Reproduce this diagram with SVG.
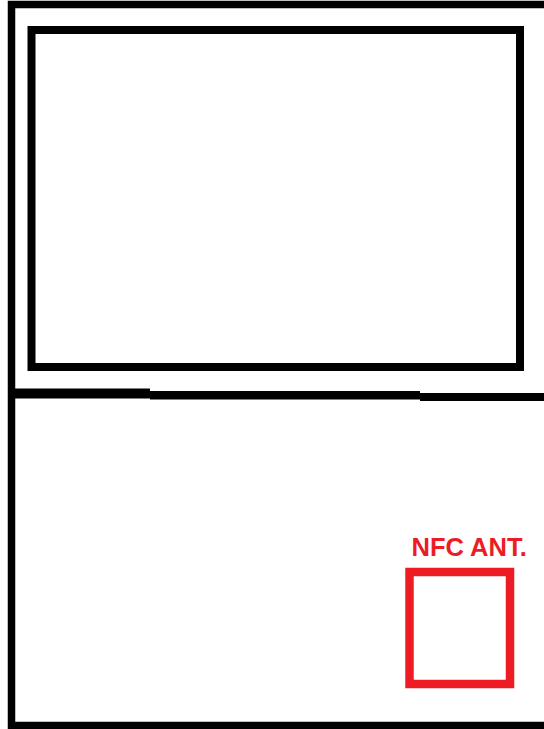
<svg xmlns="http://www.w3.org/2000/svg" width="544" height="729" viewBox="0 0 544 729">
<style>
.blk{fill:none;stroke:#000;}
.red{fill:none;stroke:#ED1C24;stroke-width:8.5;}
.lbl{font-family:"Liberation Sans",Arial,sans-serif;font-weight:bold;font-size:25.5px;fill:#ED1C24;}
</style>
<rect width="544" height="729" fill="#fff"/>
<g id="outer-frame">
<path class="blk" stroke-width="7.5" d="M560 4.5 H11.5 V725.5 H560"/>
</g>
<g id="screen">
<rect class="blk" stroke-width="8" x="31.5" y="30" width="488.5" height="337"/>
</g>
<g id="divider">
<path fill="#000" d="M15 388.5 H150 V391 H420 V393 H544 V401 H420 V399.5 H150 V398.5 H15 Z"/>
</g>
<g id="nfc-antenna">
<text class="lbl" x="411.5" y="556">NFC ANT.</text>
<rect class="red" x="409.5" y="572" width="100.5" height="112"/>
</g>
<g id="connectors"></g>
</svg>
